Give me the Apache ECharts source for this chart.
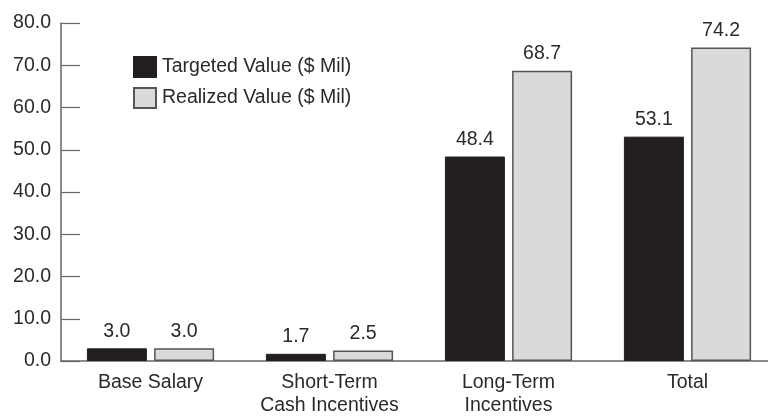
<!DOCTYPE html>
<html><head><meta charset="utf-8">
<script src="https://cdn.jsdelivr.net/npm/echarts@6/dist/echarts.min.js"></script>
<style>html,body{margin:0;padding:0;background:#fff;overflow:hidden}#c{width:800px;height:417px}</style>
</head><body><div id="c"></div>
<script>
const categories = ['Base Salary', 'Short-Term\nCash Incentives', 'Long-Term\nIncentives', 'Total'];
const targeted = [3.0, 1.7, 48.4, 53.1];
const realized = [3.0, 2.5, 68.7, 74.2];
const seriesNames = ['Targeted Value ($ Mil)', 'Realized Value ($ Mil)'];
const yMin = 0, yMax = 80, yStep = 10;

const chart = echarts.init(document.getElementById('c'), null, {renderer: 'canvas'});
const font = 'Liberation Sans, Arial, Helvetica, sans-serif';
const fs = 19.5;
chart.setOption({
  animation: false,
  textStyle: {fontFamily: font},
  grid: {left: 61, top: 23, width: 716, height: 342, containLabel: false},
  legend: {
    left: 128, top: 51, orient: 'vertical', itemWidth: 22, itemHeight: 20, itemGap: 9,
    icon: 'rect',
    textStyle: {fontSize: fs, color: '#2a2a2a', fontFamily: font, padding: [0, 0, 0, 1]},
    data: seriesNames
  },
  xAxis: {
    type: 'category', data: categories,
    axisLine: {lineStyle: {color: '#666', width: 1.5}},
    axisTick: {inside: true, length: 8, lineStyle: {color: '#666', width: 1.2}},
    axisLabel: {interval: 0, fontSize: fs, color: '#2a2a2a', lineHeight: 23, margin: 10, fontFamily: font}
  },
  yAxis: {
    type: 'value', min: yMin, max: yMax, interval: yStep,
    axisLine: {show: true, lineStyle: {color: '#666', width: 1.5}},
    axisTick: {show: true, inside: true, length: 19, lineStyle: {color: '#666', width: 1.2}},
    splitLine: {show: false},
    axisLabel: {fontSize: fs, color: '#2a2a2a', margin: 10, fontFamily: font, formatter: v => v.toFixed(1)}
  },
  series: [
    {
      name: seriesNames[0], type: 'bar', data: targeted, barWidth: 60, barGap: '12%',
      itemStyle: {color: '#231f20', borderColor: '#231f20', borderWidth: 1},
      label: {show: true, position: 'top', distance: 7, fontSize: fs, color: '#2a2a2a', fontFamily: font, formatter: p => p.value.toFixed(1)}
    },
    {
      name: seriesNames[1], type: 'bar', data: realized, barWidth: 60,
      itemStyle: {color: '#d9dadc', borderColor: '#555', borderWidth: 1.5},
      label: {show: true, position: 'top', distance: 7, fontSize: fs, color: '#2a2a2a', fontFamily: font, formatter: p => p.value.toFixed(1)}
    }
  ]
});
</script></body></html>
